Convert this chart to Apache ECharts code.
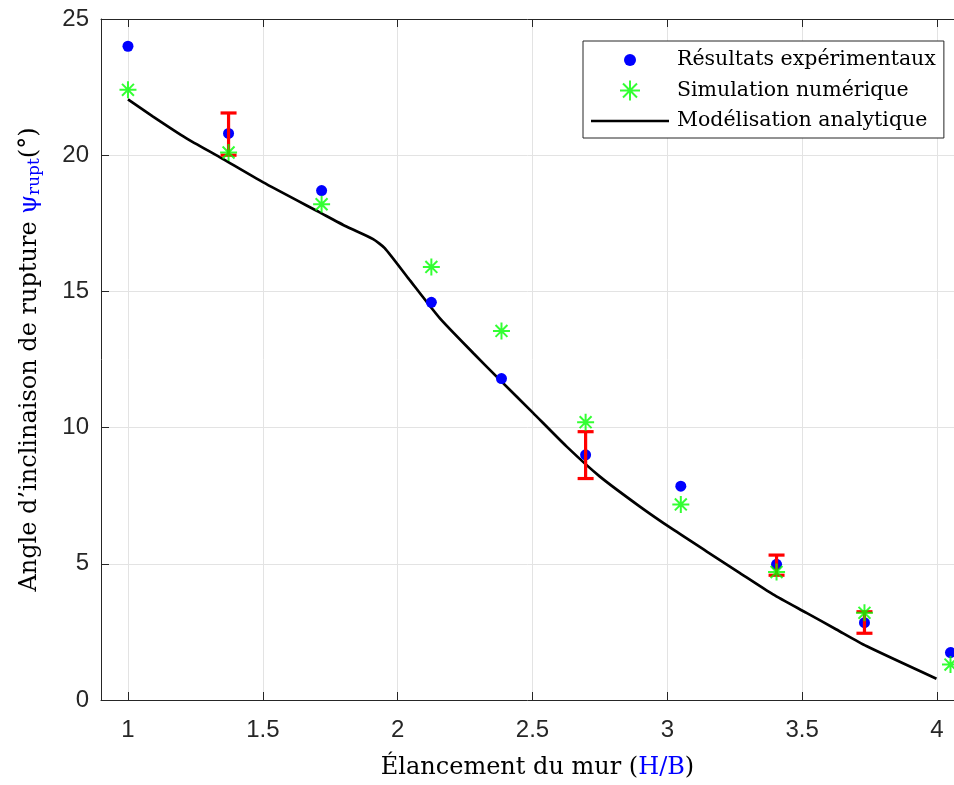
<!DOCTYPE html>
<html>
<head>
<meta charset="utf-8">
<script src="https://cdn.jsdelivr.net/npm/echarts@6/dist/echarts.min.js"></script>
<style>html,body{margin:0;padding:0;background:#fff;}#chart{width:954px;height:785px;}</style>
</head>
<body>
<div id="chart"></div>
<script>
// ---- data ----
const expX = [1.0, 1.373, 1.718, 2.125, 2.385, 2.697, 3.05, 3.405, 3.731, 4.05];
const expY = [24.0, 20.8, 18.7, 14.6, 11.8, 9.0, 7.85, 4.98, 2.84, 1.74];
const simX = [1.0, 1.373, 1.718, 2.125, 2.385, 2.697, 3.05, 3.405, 3.731, 4.05];
const simY = [22.4, 20.1, 18.2, 15.9, 13.55, 10.2, 7.18, 4.7, 3.2, 1.3];
const errX = [1.373, 2.697, 3.405, 3.731];
const errLow = [20.0, 8.13, 4.58, 2.45];
const errHigh = [21.55, 9.85, 5.32, 3.24];
const modX = [1.0, 1.093, 1.217, 1.34, 1.5, 1.711, 1.81, 1.909, 1.952, 2.039, 2.156, 2.28, 2.378, 2.502, 2.626, 2.749, 2.897, 3.021, 3.145, 3.268, 3.392, 3.516, 3.627, 3.738, 3.998];
const modY = [22.05, 21.42, 20.62, 19.93, 19.01, 17.9, 17.38, 16.92, 16.59, 15.49, 14.02, 12.74, 11.76, 10.54, 9.31, 8.21, 7.11, 6.26, 5.46, 4.67, 3.88, 3.2, 2.59, 1.98, 0.78];
const seriesNames = ['Résultats expérimentaux', 'Simulation numérique', 'Modélisation analytique'];
const xTitle = 'Élancement du mur ';
const yTitle = 'Angle d’inclinaison de rupture ';

const zip = (a, b) => a.map((v, i) => [v, b[i]]);
const starPath = 'path://M50,0 L50,100 M0,50 L100,50 M15,15 L85,85 M15,85 L85,15';
const dotLegendPath = 'path://M0,0 M100,100 M80,50 A30,30 0 1,1 20,50 A30,30 0 1,1 80,50 Z';
const lineLegendPath = 'path://M0,0 M78,20 M0,8.7 L78,8.7 L78,11.3 L0,11.3 Z';
const serif = 'DejaVu Serif';
const axisColor = '#262626';

const chart = echarts.init(document.getElementById('chart'), null, {renderer: 'canvas'});
chart.setOption({
  animation: false,
  backgroundColor: '#fff',
  grid: {left: 101, top: 19, right: 0, height: 682, containLabel: false},
  xAxis: [{
    type: 'value', min: 0.9, max: 4.063, position: 'bottom',
    axisLine: {show: true, onZero: false, lineStyle: {color: axisColor, width: 1}},
    axisTick: {show: true, inside: true, length: 8, lineStyle: {color: axisColor}},
    axisLabel: {showMinLabel: false, showMaxLabel: false, margin: 18, color: axisColor, fontFamily: 'Liberation Sans', fontSize: 24},
    splitLine: {show: true, lineStyle: {color: '#e3e3e3', width: 1}},
    name: xTitle + '{hb|(}{b|H/B}{hb|)}',
    nameLocation: 'middle', nameGap: 56,
    nameTextStyle: {fontFamily: serif, fontSize: 24, color: '#000', padding: [0, 0, 0, 20],
      rich: {hb: {fontFamily: serif, fontSize: 24, color: '#000'}, b: {fontFamily: serif, fontSize: 24, color: '#0000ff'}}}
  }, {
    type: 'value', min: 0.9, max: 4.063, position: 'top',
    axisLine: {show: true, onZero: false, lineStyle: {color: axisColor, width: 1}},
    axisTick: {show: true, inside: true, length: 8, lineStyle: {color: axisColor}},
    axisLabel: {show: false}, splitLine: {show: false}
  }],
  yAxis: [{
    type: 'value', min: 0, max: 25, interval: 5,
    axisLine: {show: true, onZero: false, lineStyle: {color: axisColor, width: 1}},
    axisTick: {show: true, inside: true, length: 8, lineStyle: {color: axisColor}},
    axisLabel: {margin: 12, color: axisColor, fontFamily: 'Liberation Sans', fontSize: 24},
    splitLine: {show: true, lineStyle: {color: '#e3e3e3', width: 1}},
    name: yTitle + '{psi|ψ}{sub|rupt}{d|(°)}',
    nameLocation: 'middle', nameGap: 58, nameRotate: 90,
    nameTextStyle: {fontFamily: serif, fontSize: 24, color: '#000',
      rich: {psi: {fontFamily: serif, fontSize: 24, color: '#0000ff'},
             sub: {fontFamily: serif, fontSize: 17, color: '#0000ff', verticalAlign: 'bottom', padding: [9, 0, 0, 0]},
             d: {fontFamily: serif, fontSize: 24, color: '#000'}}}
  }],
  legend: {
    orient: 'vertical', left: 583, top: 41,
    padding: [7, 8, 5, 8], itemGap: 6, itemWidth: 78, itemHeight: 20,
    backgroundColor: '#fff', borderColor: axisColor, borderWidth: 1,
    symbolKeepAspect: true,
    textStyle: {fontFamily: serif, fontSize: 20.5, color: '#000', lineHeight: 24, padding: [0, 0, 0, 3]},
    data: [
      {name: seriesNames[0], icon: dotLegendPath, itemStyle: {color: '#0000ff', borderWidth: 0}},
      {name: seriesNames[1], icon: starPath, itemStyle: {color: 'none', borderColor: '#00ff00', borderWidth: 2}},
      {name: seriesNames[2], icon: lineLegendPath, itemStyle: {color: '#000', borderWidth: 0}}
    ]
  },
  series: [
    {
      name: seriesNames[2], type: 'line', data: zip(modX, modY),
      symbol: 'none', smooth: 0.2, z: 2,
      lineStyle: {color: '#000', width: 2.7}, itemStyle: {color: '#000'}
    },
    {
      name: seriesNames[0], type: 'scatter', data: zip(expX, expY),
      symbol: 'circle', symbolSize: 11, z: 3,
      itemStyle: {color: '#0000ff', opacity: 1}
    },
    {
      name: 'err', type: 'custom', z: 4,
      data: errX.map((x, i) => [x, errLow[i], errHigh[i]]),
      encode: {x: 0, y: [1, 2]},
      renderItem: function (params, api) {
        const x = api.value(0);
        const lo = api.coord([x, api.value(1)]);
        const hi = api.coord([x, api.value(2)]);
        const w = 8;
        const st = {stroke: '#ff0000', lineWidth: 3.2};
        return {type: 'group', children: [
          {type: 'line', shape: {x1: lo[0], y1: lo[1], x2: hi[0], y2: hi[1]}, style: st},
          {type: 'line', shape: {x1: lo[0] - w, y1: lo[1], x2: lo[0] + w, y2: lo[1]}, style: st},
          {type: 'line', shape: {x1: hi[0] - w, y1: hi[1], x2: hi[0] + w, y2: hi[1]}, style: st}
        ]};
      }
    },
    {
      name: seriesNames[1], type: 'scatter', data: zip(simX, simY),
      symbol: starPath, symbolSize: 17, z: 5,
      itemStyle: {color: 'none', borderColor: '#00ff00', borderWidth: 2}
    }
  ]
});
</script>
</body>
</html>
